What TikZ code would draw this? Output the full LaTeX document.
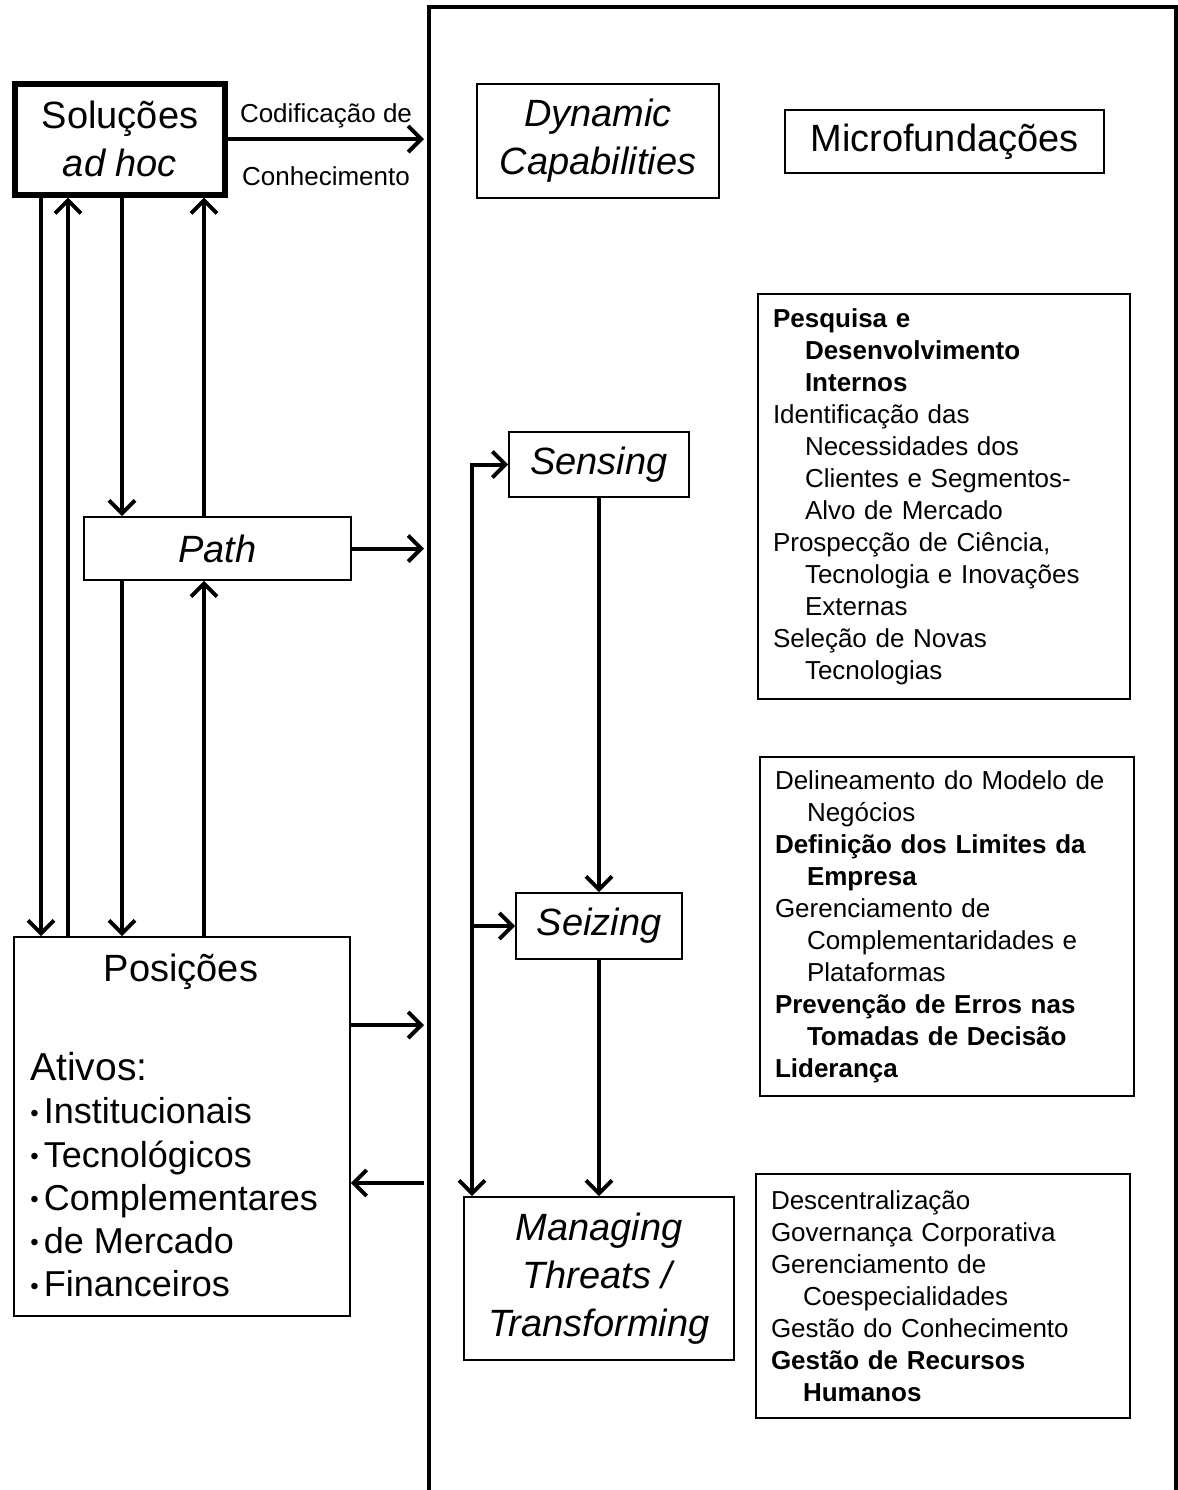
\documentclass[tikz,border=0pt]{standalone}
\usepackage{fontspec}
\setmainfont{Liberation Sans}
\usetikzlibrary{arrows.meta}
\newcommand{\ind}{\hspace*{16pt}}
\newcommand{\bul}{{\fontsize{12pt}{12pt}\selectfont\raisebox{0.2ex}{•}}\hspace{2.5pt}}

\tikzset{
  >={Straight Barb[length=6.5pt,width=13pt]},
  box/.style={draw=black, line width=0.8pt, inner sep=0pt, align=center},
  big/.style={font=\fontsize{19pt}{24pt}\selectfont},
  small/.style={font=\fontsize{13pt}{16pt}\selectfont},
  flow/.style={->, line width=2pt},
  listbox/.style={draw=black, line width=0.8pt, align=left, inner xsep=7.5pt, inner ysep=0pt, small}
}

\begin{document}
\begin{tikzpicture}[x=0.5pt,y=-0.5pt]
\useasboundingbox (0,0) rectangle (1178,1490);

% frame
\draw[line width=2pt] (429,1500) -- (429,7) -- (1176,7) -- (1176,1500);
\coordinate (f1) at (424,139);
\coordinate (f2) at (424,548.5);
\coordinate (f3) at (424,1025);
\coordinate (f4) at (424,1183);

% left side
\node[box, big, line width=3pt, minimum width=105pt, minimum height=55.5pt] (sol) at (120,139) {Soluções\\\textit{ad hoc}};
\node[box, big, minimum width=133.5pt, minimum height=31.5pt] (path) at (217.5,548.5) {\textit{Path}};
\node[box, minimum width=168pt, minimum height=189.5pt] (pos) at (182,1126.5) {};
\node[big] (posT) at (181,972) {Posições};
\node[anchor=north west, align=left, inner sep=0pt, font=\fontsize{18pt}{21.6pt}\selectfont] (ativos) at (30,1052)
  {{\fontsize{19.5pt}{21.6pt}\selectfont Ativos:}\\\bul Institucionais\\\bul Tecnológicos\\\bul Complementares\\\bul de Mercado\\\bul Financeiros};

\draw[flow] (sol.east) -- node[small, above=1pt] {Codificação de} node[small, below=9.5pt] {Conhecimento} (f1);
\draw[flow] (sol.south -| 41,0) -- (pos.north -| 41,0);
\draw[flow] (pos.north -| 68,0) -- (sol.south -| 68,0);
\draw[flow] (sol.south -| 122,0) -- (path.north -| 122,0);
\draw[flow] (path.north -| 204,0) -- (sol.south -| 204,0);
\draw[flow] (path.south -| 122,0) -- (pos.north -| 122,0);
\draw[flow] (pos.north -| 204,0) -- (path.south -| 204,0);
\draw[flow] (path.east) -- (f2);
\draw[flow] (pos.east |- f3) -- (f3);
\draw[flow] (f4) -- (pos.east |- f4);

% dynamic capabilities
\node[box, big, minimum width=121pt, minimum height=57pt] (dyn) at (598,141) {\textit{Dynamic}\\\textit{Capabilities}};
\node[box, big, minimum width=159.5pt, minimum height=31.5pt] (micro) at (944.5,141.5) {Microfundações};
\node[box, big, minimum width=90pt, minimum height=32.5pt] (sens) at (599,464.5) {\textit{Sensing}};
\node[box, big, minimum width=83pt, minimum height=33pt] (seiz) at (599,926) {\textit{Seizing}};
\node[box, big, minimum width=135pt, minimum height=81.5pt] (mng) at (599,1278.5) {\textit{Managing}\\\textit{Threats /}\\\textit{Transforming}};

\draw[flow] (sens) -- (seiz);
\draw[flow] (seiz) -- (mng);
\draw[flow, <->] (sens.west) -| (mng.north -| 472,0);
\draw[flow] (seiz.west -| 472,0) -- (seiz.west);

% microfundacoes
\node[listbox, text width=171pt, minimum height=202.5pt] (senseList) at (944,496.5)
  {\textbf{Pesquisa e}\\\ind\textbf{Desenvolvimento}\\\ind\textbf{Internos}\\
   Identificação das\\\ind Necessidades dos\\\ind Clientes e Segmentos-\\\ind Alvo de Mercado\\
   Prospecção de Ciência,\\\ind Tecnologia e Inovações\\\ind Externas\\
   Seleção de Novas\\\ind Tecnologias};
\node[listbox, text width=172pt, minimum height=169.5pt] (seizList) at (947,926.5)
  {Delineamento do Modelo de\\\ind Negócios\\
   \textbf{Definição dos Limites da}\\\ind\textbf{Empresa}\\
   Gerenciamento de\\\ind Complementaridades e\\\ind Plataformas\\
   \textbf{Prevenção de Erros nas}\\\ind\textbf{Tomadas de Decisão}\\
   \textbf{Liderança}};
\node[listbox, text width=172pt, minimum height=122pt] (mngList) at (943,1296)
  {Descentralização\\Governança Corporativa\\
   Gerenciamento de\\\ind Coespecialidades\\
   Gestão do Conhecimento\\
   \textbf{Gestão de Recursos}\\\ind\textbf{Humanos}};
\end{tikzpicture}
\end{document}
